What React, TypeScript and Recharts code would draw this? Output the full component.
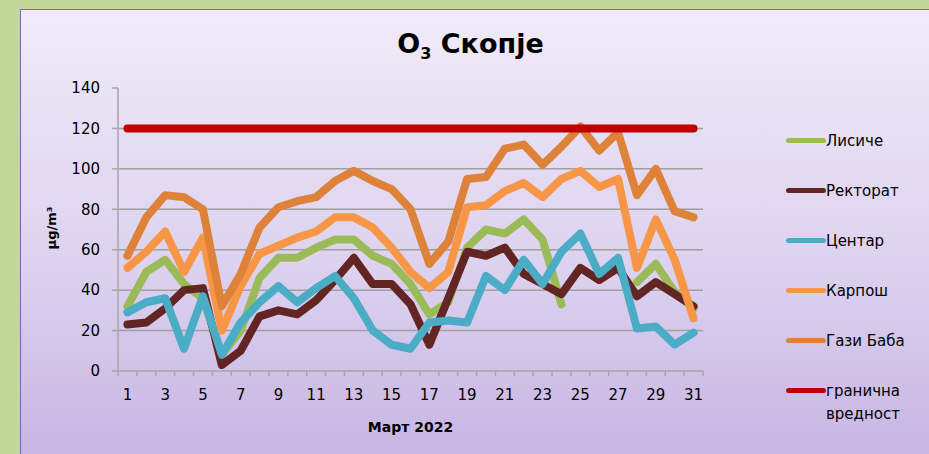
import React from 'react';
import { CartesianGrid, Legend, Line, LineChart, XAxis, YAxis } from 'recharts';

// Март 2022, дневни вредности на O3 (µg/m3)
const days = [
  1, 2, 3, 4, 5, 6, 7, 8, 9, 10, 11, 12, 13, 14, 15, 16,
  17, 18, 19, 20, 21, 22, 23, 24, 25, 26, 27, 28, 29, 30, 31,
];
const dayTicks = [1, 3, 5, 7, 9, 11, 13, 15, 17, 19, 21, 23, 25, 27, 29, 31];
const yTicks = [0, 20, 40, 60, 80, 100, 120, 140];
const gridValues = [20, 40, 60, 80, 100, 120];

const lisiche = [
  32, 49, 55, 43, 36, 8, 20, 46, 56, 56, 61, 65, 65, 57, 53, 43,
  28, 34, 61, 70, 68, 75, 65, 33, null, null, null, 44, 53, 39, 31,
];
const rektorat = [
  23, 24, 31, 40, 41, 3, 10, 27, 30, 28, 35, 45, 56, 43, 43, 33,
  13, 36, 59, 57, 61, 48, 43, 38, 51, 45, 51, 37, 44, 38, 32,
];
const centar = [
  29, 34, 36, 11, 37, 8, 24, 34, 42, 34, 41, 47, 36, 20, 13, 11,
  24, 25, 24, 47, 40, 55, 43, 59, 68, 48, 56, 21, 22, 13, 19,
];
const karposh = [
  51, 59, 69, 49, 66, 20, 42, 58, 62, 66, 69, 76, 76, 71, 61, 49,
  41, 49, 81, 82, 89, 93, 86, 95, 99, 91, 95, 51, 75, 55, 26,
];
const gaziBaba = [
  57, 76, 87, 86, 80, 32, 48, 71, 81, 84, 86, 94, 99, 94, 90, 80,
  53, 64, 95, 96, 110, 112, 102, 111, 121, 109, 118, 87, 100, 79, 76,
];
const limitValue = 120;

const series = [
  { key: 'lisiche', name: 'Лисиче', color: '#9bbb59' },
  { key: 'rektorat', name: 'Ректорат', color: '#632523' },
  { key: 'centar', name: 'Центар', color: '#4bacc6' },
  { key: 'karposh', name: 'Карпош', color: '#f79646' },
  { key: 'gaziBaba', name: 'Гази Баба', color: '#dd8238' },
  { key: 'limit', name: 'гранична вредност', color: '#c00000' },
];

const data = days.map((day, i) => ({
  day,
  lisiche: lisiche[i],
  rektorat: rektorat[i],
  centar: centar[i],
  karposh: karposh[i],
  gaziBaba: gaziBaba[i],
  limit: limitValue,
}));

// labels on odd days, tick marks between the days
const xTicks = [...days.map((d) => d - 0.5), days[days.length - 1] + 0.5, ...dayTicks].sort(
  (a, b) => a - b,
);

const FONT = '"DejaVu Sans", sans-serif';
const AXIS = '#a6a6a6';

const XTick = (props: any) => {
  const { x, y, payload } = props;
  const v = payload.value;
  if (!Number.isInteger(v)) {
    return <line x1={x} x2={x} y1={y} y2={y + 5} stroke={AXIS} strokeWidth={1.5} />;
  }
  if (!dayTicks.includes(v)) return null;
  return (
    <text x={x} y={y + 24} dy="0.35em" textAnchor="middle" fill="#000" fontSize={15} fontFamily={FONT}>
      {v}
    </text>
  );
};

// legend keeps the series order, not sorted
const renderLegend = () => (
  <div style={{ fontFamily: FONT, fontSize: 15, color: '#000' }}>
    {series.map((s) => (
      <div key={s.key} style={{ display: 'flex', alignItems: 'flex-start', height: 50 }}>
        <span
          style={{
            width: 40,
            height: 5,
            marginTop: 8,
            borderRadius: 3,
            background: s.color,
            flex: 'none',
          }}
        />
        <span style={{ lineHeight: '23px', width: 95 }}>{s.name}</span>
      </div>
    ))}
  </div>
);

export default function App() {
  return (
    <div
      style={{
        position: 'fixed',
        left: 0,
        top: 0,
        width: 929,
        height: 454,
        background: '#c4d79b',
        overflow: 'hidden',
      }}
    >
      <div
        style={{
          position: 'absolute',
          left: 20,
          top: 9,
          width: 920,
          height: 460,
          border: '1.5px solid #8064a2',
          background: 'linear-gradient(180deg, #f0ebf8 0%, #ddd2ef 55%, #c6b3e2 100%)',
        }}
      />
      <div
        style={{
          position: 'absolute',
          left: 0,
          top: 28,
          width: 929,
          textAlign: 'center',
          fontFamily: FONT,
          fontWeight: 'bold',
          fontSize: 27,
          color: '#000',
          paddingLeft: 6,
        }}
      >
        O<sub style={{ fontSize: 16 }}>3</sub> Скопје
      </div>
      <div style={{ position: 'absolute', left: 0, top: 0 }}>
        <LineChart width={929} height={454} data={data} margin={{ top: 88, right: 226, bottom: 0, left: 0 }}>
          <CartesianGrid vertical={false} horizontalValues={gridValues} stroke="#a0a0a0" strokeWidth={1.5} />
          <XAxis
            type="number"
            dataKey="day"
            domain={[0.5, 31.5]}
            ticks={xTicks}
            interval={0}
            tickSize={0}
            tickMargin={0}
            tickLine={false}
            axisLine={{ stroke: AXIS, strokeWidth: 1.5 }}
            height={83}
            tick={<XTick />}
            label={{
              content: ({ viewBox }: any) => (
                <text
                  x={viewBox.x + viewBox.width / 2}
                  y={viewBox.y + 56}
                  dy="0.35em"
                  textAnchor="middle"
                  fontFamily={FONT}
                  fontWeight="bold"
                  fontSize={14}
                  fill="#000"
                >
                  Март 2022
                </text>
              ),
            }}
          />
          <YAxis
            type="number"
            domain={[0, 140]}
            ticks={yTicks}
            interval={0}
            width={118}
            tickSize={6}
            tickMargin={12}
            tickLine={{ stroke: AXIS, strokeWidth: 1.5 }}
            axisLine={{ stroke: AXIS, strokeWidth: 1.5 }}
            tick={{ fill: '#000', fontSize: 15, fontFamily: FONT }}
            label={{
              content: () => (
                <text
                  x={51}
                  y={228}
                  transform="rotate(-90 51 228)"
                  dy="0.35em"
                  textAnchor="middle"
                  fontFamily={FONT}
                  fontWeight="bold"
                  fontSize={13}
                  fill="#000"
                >
                  µg/m³
                </text>
              ),
            }}
          />
          <Legend
            layout="vertical"
            align="center"
            verticalAlign="middle"
            content={renderLegend}
            wrapperStyle={{ left: 786, top: 130, width: 140 }}
          />
          {series.map((s) => (
            <Line
              key={s.key}
              type="linear"
              dataKey={s.key}
              name={s.name}
              stroke={s.color}
              strokeWidth={8}
              strokeLinecap="round"
              strokeLinejoin="round"
              dot={false}
              activeDot={false}
              isAnimationActive={false}
            />
          ))}
        </LineChart>
      </div>
    </div>
  );
}
